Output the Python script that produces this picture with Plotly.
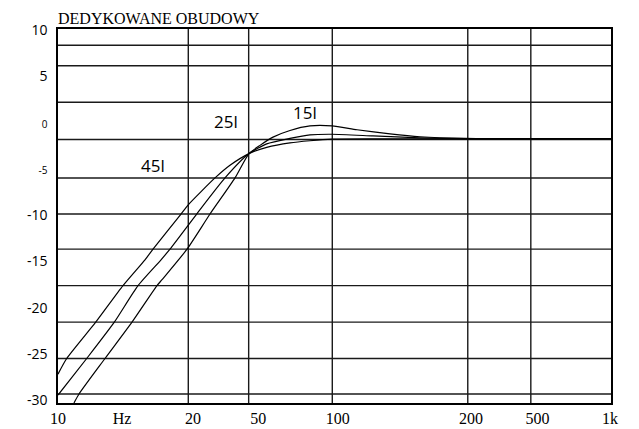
import plotly.graph_objects as go

# ---- data (x in chart position units 0..100 along the drawn axis, y in dB) ----
x_45 = [0, 1.57, 6.82, 11.75, 15.73, 17.18, 22.24, 23.51, 28.39, 31.10, 34.54, 37.74, 41.95, 45.57, 49.55, 58.23, 100]
y_45 = [-27.17, -25.48, -21.55, -17.60, -14.81, -13.66, -9.86, -8.89, -5.96, -4.59, -3.33, -2.66, -2.17, -1.94, -1.77, -1.74, -1.72]

x_25 = [0, 5.19, 10.18, 14.47, 18.63, 20.25, 25.08, 30.20, 34.54, 37.74, 41.95, 45.57, 49.55, 56.96, 65.46, 73.60, 100]
y_25 = [-29.43, -25.48, -21.55, -17.60, -14.81, -13.66, -9.86, -5.96, -3.33, -2.28, -1.69, -1.31, -1.24, -1.42, -1.63, -1.72, -1.72]

x_15 = [2.89, 3.80, 8.50, 13.38, 17.90, 18.81, 23.33, 27.49, 32.01, 34.54, 36.53, 38.88, 41.95, 45.57, 49.55, 54.07, 60.04, 65.46, 73.60, 100]
y_15 = [-30.29, -29.32, -25.48, -21.55, -17.60, -16.96, -13.66, -9.86, -5.96, -3.33, -2.44, -1.55, -0.83, -0.34, -0.34, -0.75, -1.20, -1.51, -1.69, -1.72]

series_names = ["45l", "25l", "15l"]
label_x = [17.09, 30.38, 44.67]
label_y = [-4.59, 0.14, 1.16]

x_tick_pos = [0, 11.57, 24.4, 36.2, 50.6, 74.7, 86.7, 99.8]
x_tick_text = ["10", "Hz", "20", "50", "100", "200", "500", "1k"]
y_tick_vals = [10, 5, 0, -5, -10, -15, -20, -25, -30]
y_tick_text = ["10", "5", "<span style='font-size:10px'>0</span>",
               "<span style='font-size:10px'>-5</span>",
               "-10", "-15", "-20", "-25", "-30"]

# grid line positions (layout)
h_grid = [8.39, 6.16, 2.22, -1.80, -5.96, -9.86, -13.66, -17.60, -21.55, -25.48, -29.32]
v_grid = [23.56, 34.48, 49.6, 74.1, 85.5]

fig = go.Figure()
for xs, ys, nm in [(x_45, y_45, "45l"), (x_25, y_25, "25l"), (x_15, y_15, "15l")]:
    fig.add_trace(go.Scatter(x=xs, y=ys, mode="lines", name=nm,
                             line=dict(color="black", width=1.2, shape="spline", smoothing=0.6),
                             showlegend=False, hoverinfo="skip"))

shapes = []
for g in h_grid:
    shapes.append(dict(type="line", xref="paper", yref="y", x0=0, x1=1, y0=g, y1=g,
                       line=dict(color="#1a1a1a", width=1.4), layer="below"))
for g in v_grid:
    shapes.append(dict(type="line", xref="x", yref="paper", x0=g, x1=g, y0=0, y1=1,
                       line=dict(color="#1a1a1a", width=1.4), layer="below"))

annotations = []
for nm, lx, ly in zip(series_names, label_x, label_y):
    annotations.append(dict(x=lx, y=ly, xref="x", yref="y", text=nm, showarrow=False,
                            font=dict(family="Open Sans", size=17, color="black")))

H = 439
fig.update_layout(
    width=639, height=H,
    margin=dict(l=58, r=28, t=28.6, b=25.9, pad=0),
    paper_bgcolor="white", plot_bgcolor="white",
    title=dict(text="DEDYKOWANE OBUDOWY", x=58 / 639, xref="container", xanchor="left",
               y=1 - 17.9 / H, yref="container", yanchor="middle",
               font=dict(family="Liberation Serif", size=16, color="black")),
    xaxis=dict(range=[0, 100], tickmode="array", tickvals=x_tick_pos, ticktext=x_tick_text,
               showgrid=False, zeroline=False, showline=True, mirror=True,
               linecolor="black", linewidth=1.5, ticks="",
               tickfont=dict(family="Liberation Serif", size=16, color="black")),
    yaxis=dict(range=[-30.29, 10.14], tickmode="array", tickvals=y_tick_vals, ticktext=y_tick_text,
               showgrid=False, zeroline=False, showline=True, mirror=True,
               linecolor="black", linewidth=1.5, ticks="", ticklabelstandoff=6,
               tickfont=dict(family="Open Sans", size=14, color="black")),
    shapes=shapes, annotations=annotations,
)

fig.write_html("out.html", config={"displayModeBar": False},
               post_script="document.body.style.margin='0';")
